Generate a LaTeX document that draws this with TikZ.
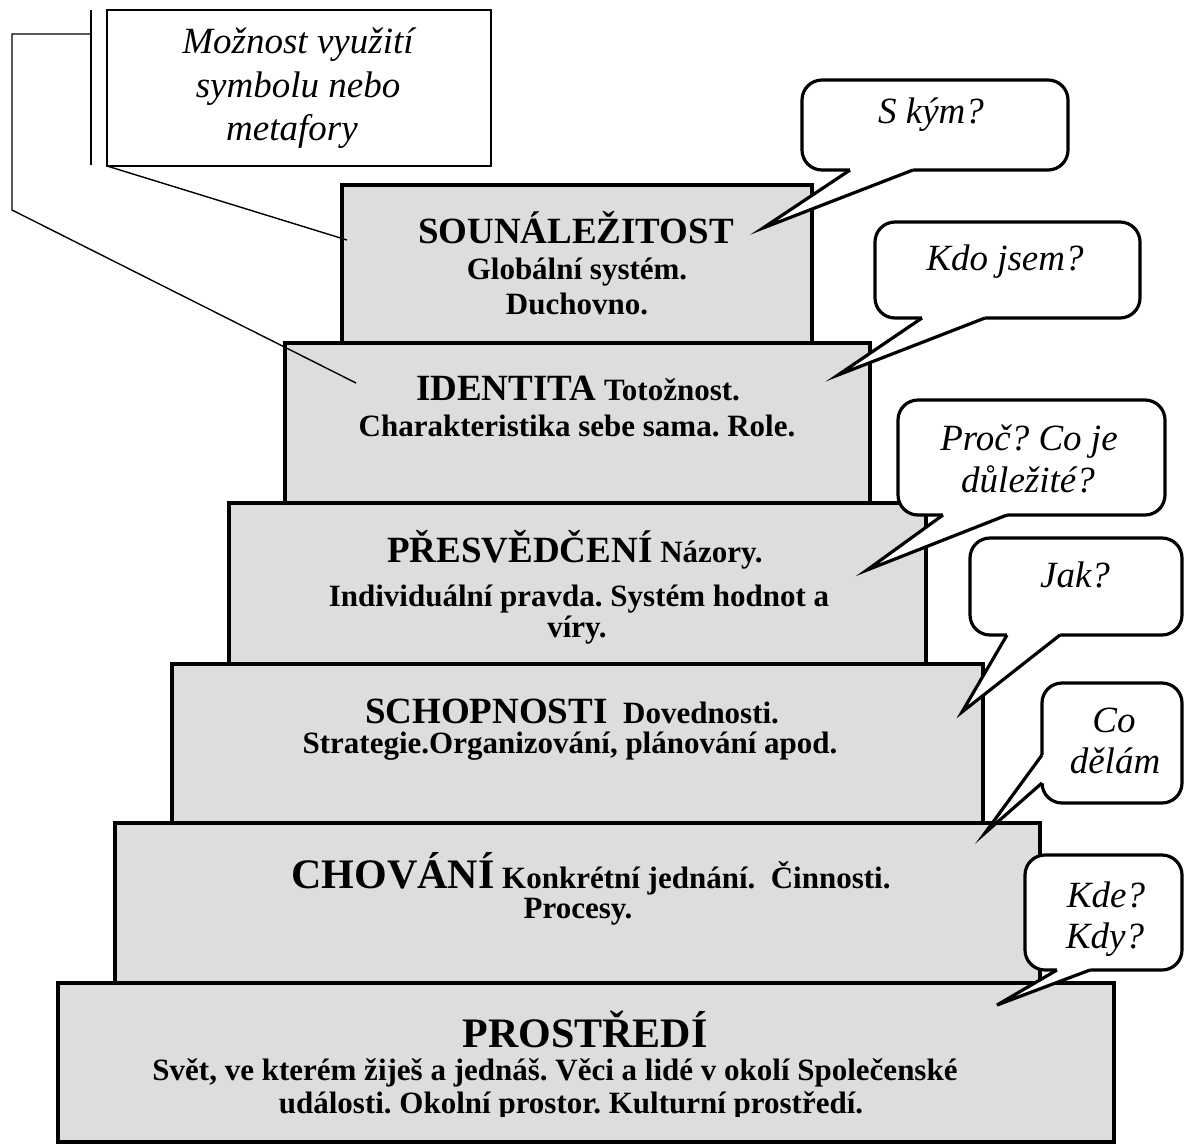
\documentclass[tikz,border=0pt]{standalone}
\usepackage{fontspec}
\setmainfont{Liberation Serif}
\definecolor{tiergray}{RGB}{221,221,221}
\newcommand\bigtt[1]{{\fontsize{37}{40}\selectfont #1}}
\newcommand\hugett[1]{{\fontsize{42}{45}\selectfont #1}}
\frenchspacing
\begin{document}
\frenchspacing
\begin{tikzpicture}[x=1pt,y=-1pt,
  tier/.style={draw=black, line width=3.8pt, fill=tiergray, inner sep=0pt, outer sep=0pt},
  bubble/.style={draw=black, line width=3.2pt, fill=white, rounded corners=20pt, inner sep=0pt, outer sep=0pt},
  notebox/.style={draw=black, line width=1.5pt, fill=white, inner sep=0pt, outer sep=0pt},
  ital/.style={font=\fontsize{37}{40}\selectfont\itshape, anchor=base, inner sep=0pt},
  ttl/.style={font=\fontsize{37}{40}\selectfont\bfseries, anchor=base, inner sep=0pt},
  sub/.style={font=\fontsize{31}{34}\selectfont\bfseries, anchor=base, inner sep=0pt},
  thinline/.style={line width=1.4pt},
  wedgefill/.style={fill=white},
  wedgeline/.style={draw=black, line width=3.2pt, line join=miter}]
\useasboundingbox (0,0) rectangle (1184,1144);
\fill[white] (0,0) rectangle (1184,1144);
\clip (0,0) rectangle (1184,1144);

% tiers
\node[tier, minimum width=470pt, minimum height=158pt] (b1) at (577,264) {};
\node[tier, minimum width=585pt, minimum height=160pt] (b2) at (577.5,423) {};
\node[tier, minimum width=697pt, minimum height=161pt] (b3) at (577.5,583.5) {};
\node[tier, minimum width=811pt, minimum height=159pt] (b4) at (577.5,743.5) {};
\node[tier, minimum width=925pt, minimum height=160pt] (b5) at (577.5,903) {};
\node[tier, minimum width=1056pt, minimum height=159pt] (b6) at (586,1062.5) {};

% note box and its leader lines
\node[notebox, minimum width=384pt, minimum height=156pt] (cb) at (299,88) {};
\node[ital] (n1) at (298,53) {Možnost využití};
\node[ital] (n2) at (298,97) {symbolu nebo};
\node[ital] (n3) at (292,140) {metafory};
\coordinate (brt) at (91,10);
\coordinate (brb) at (91,165);
\coordinate (brm) at (91,34);
\coordinate (k1) at (12,34);
\coordinate (k2) at (12,210);
\coordinate (e1) at (347,240);
\coordinate (e2) at (356,383);
\draw[thinline] (brt) -- (brb);
\draw[thinline] (brm) -- (k1) -- (k2) -- (e2);
\draw[thinline] (cb.south west) -- (e1);

% tier texts
\node[ttl] (t1a) at (576,243) {SOUNÁLEŽITOST};
\node[sub] (t1b) at (577,279) {Globální systém.};
\node[sub] (t1c) at (577,314) {Duchovno.};

\node[sub] (t2a) at (578,400) {\bigtt{IDENTITA} Totožnost.};
\node[sub] (t2b) at (577,436) {Charakteristika sebe sama. Role.};

\node[sub] (t3a) at (575,562) {\bigtt{PŘESVĚDČENÍ} Názory.};
\node[sub] (t3b) at (579,606) {Individuální pravda. Systém hodnot a};
\node[sub] (t3c) at (577,637) {víry.};

\node[sub] (t4a) at (572,723) {\bigtt{SCHOPNOSTI}\ \ Dovednosti.};
\node[sub] (t4b) at (570,753) {Strategie.Organizování, plánování apod.};

\node[sub] (t5a) at (591,888) {\hugett{CHOVÁNÍ} Konkrétní jednání.\ \ Činnosti.};
\node[sub] (t5b) at (578,918) {Procesy.};

\node[sub] (t6a) at (585,1047) {\hugett{PROSTŘEDÍ}};
\node[sub] (t6b) at (555,1080) {Svět, ve kterém žiješ a jednáš. Věci a lidé v okolí Společenské};
\begin{scope}
\clip (58,983) rectangle (1114,1116);
\node[sub] (t6c) at (571,1113) {události. Okolní prostor. Kulturní prostředí.};
\end{scope}

% speech bubbles
% 1
\node[bubble, minimum width=266pt, minimum height=90pt] (s1) at (935,125) {};
\coordinate (s1a) at (850,170); \coordinate (s1b) at (913,170); \coordinate (s1t) at (763,228);
\fill[wedgefill] ([yshift=6pt]s1a) -- (s1a) -- (s1t) -- (s1b) -- ([yshift=6pt]s1b) -- cycle;
\draw[wedgeline] (s1a) -- (s1t) -- (s1b);
\node[ital] (q1) at (931,123) {S kým?};
% 2
\node[bubble, minimum width=265pt, minimum height=96pt] (s2) at (1007.5,270) {};
\coordinate (s2a) at (922,318); \coordinate (s2b) at (985,318); \coordinate (s2t) at (838,375);
\fill[wedgefill] ([yshift=6pt]s2a) -- (s2a) -- (s2t) -- (s2b) -- ([yshift=6pt]s2b) -- cycle;
\draw[wedgeline] (s2a) -- (s2t) -- (s2b);
\node[ital] (q2) at (1005,270) {Kdo jsem?};
% 3
\node[bubble, minimum width=267pt, minimum height=115pt] (s3) at (1031.5,457.5) {};
\coordinate (s3a) at (943,515); \coordinate (s3b) at (1007,515); \coordinate (s3t) at (867,570);
\fill[wedgefill] ([yshift=6pt]s3a) -- (s3a) -- (s3t) -- (s3b) -- ([yshift=6pt]s3b) -- cycle;
\draw[wedgeline] (s3a) -- (s3t) -- (s3b);
\node[ital] (q3a) at (1029,450) {Proč? Co je};
\node[ital] (q3b) at (1028,492) {důležité?};
% 4
\node[bubble, minimum width=212pt, minimum height=97pt] (s4) at (1076,586.5) {};
\coordinate (s4a) at (1007,635); \coordinate (s4b) at (1060,635); \coordinate (s4t) at (962,712);
\fill[wedgefill] ([yshift=6pt]s4a) -- (s4a) -- (s4t) -- (s4b) -- ([yshift=6pt]s4b) -- cycle;
\draw[wedgeline] (s4a) -- (s4t) -- (s4b);
\node[ital] (q4) at (1075,587) {Jak?};
% 5
\node[bubble, minimum width=140pt, minimum height=120pt] (s5) at (1112,743) {};
\coordinate (s5a) at (1042,755); \coordinate (s5b) at (1042,783); \coordinate (s5t) at (985,833);
\fill[wedgefill] ([xshift=6pt]s5a) -- (s5a) -- (s5t) -- (s5b) -- ([xshift=6pt]s5b) -- cycle;
\draw[wedgeline] (s5a) -- (s5t) -- (s5b);
\node[ital] (q5a) at (1114,732) {Co};
\node[ital] (q5b) at (1115,773) {dělám};
% 6
\node[bubble, minimum width=157pt, minimum height=115pt] (s6) at (1103.5,912.5) {};
\coordinate (s6a) at (1057,970); \coordinate (s6b) at (1090,970); \coordinate (s6t) at (997,1005);
\fill[wedgefill] ([yshift=6pt]s6a) -- (s6a) -- (s6t) -- (s6b) -- ([yshift=6pt]s6b) -- cycle;
\draw[wedgeline] (s6a) -- (s6t) -- (s6b);
\node[ital] (q6a) at (1106,907) {Kde?};
\node[ital] (q6b) at (1105,948) {Kdy?};
\end{tikzpicture}
\end{document}
